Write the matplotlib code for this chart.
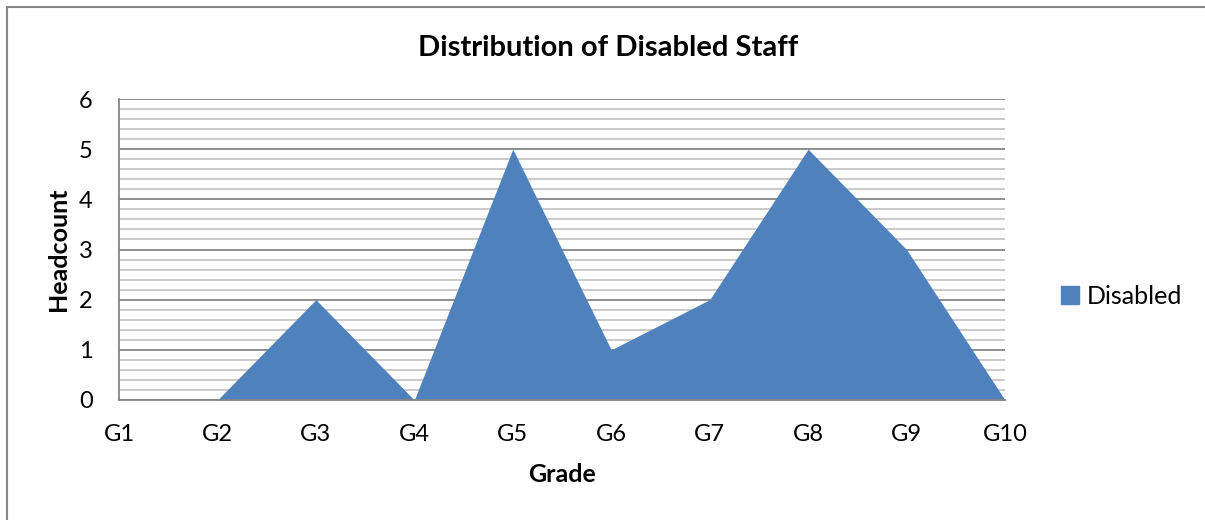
import matplotlib
matplotlib.use("Agg")
import matplotlib.pyplot as plt
from matplotlib.patches import Rectangle, Patch
from matplotlib.ticker import MultipleLocator

grades = ["G1", "G2", "G3", "G4", "G5", "G6", "G7", "G8", "G9", "G10"]
disabled = [0, 0, 2, 0, 5, 1, 2, 5, 3, 0]
series_name = "Disabled"

plt.rcParams['font.family'] = ['Lato', 'DejaVu Sans']

W, H = 1205, 520
fig = plt.figure(figsize=(W / 100, H / 100), dpi=100)
fig.patches.append(Rectangle((7 / W, -10 / H), (1230 - 7) / W, (513 + 10) / H,
                             transform=fig.transFigure, fill=False,
                             edgecolor="#868686", linewidth=1.5))

ax = fig.add_axes([119 / W, 1 - 400 / H, (1005 - 119) / W, (400 - 99) / H])
x = list(range(len(grades)))
ax.fill_between(x, disabled, 0, color="#4F81BD", linewidth=0, zorder=3)

ax.set_xlim(0, len(grades) - 1)
ax.set_ylim(0, 6)
ax.yaxis.set_major_locator(MultipleLocator(1))
ax.yaxis.set_minor_locator(MultipleLocator(0.2))
ax.grid(True, which="major", axis="y", color="#868686", linewidth=1.3, zorder=1)
ax.grid(True, which="minor", axis="y", color="#C6C6C6", linewidth=1.3, zorder=1)
ax.set_xticks(x)
ax.set_xticklabels(grades)
for s in ["top", "right"]:
    ax.spines[s].set_visible(False)
for s in ["left", "bottom"]:
    ax.spines[s].set_color("#868686")
    ax.spines[s].set_linewidth(1.3)
    ax.spines[s].set_zorder(4)
ax.tick_params(axis="both", which="both", length=0, labelsize=17, colors="black")
ax.tick_params(axis="x", pad=17.5)
ax.tick_params(axis="y", pad=19)

ax.set_xlabel("Grade", fontsize=18, fontweight="bold", labelpad=13)
ax.set_ylabel("Headcount", fontsize=18, fontweight="bold", labelpad=6)
fig.text(608 / W, 1 - 48 / H, "Distribution of Disabled Staff", ha="center", va="center",
         fontsize=21, fontweight="bold")

fig.legend(handles=[Patch(color="#4F81BD", label=series_name)],
           loc="center left", bbox_to_anchor=(1038 / W, 1 - 296 / H),
           frameon=False, fontsize=18, handlelength=0.75, handleheight=0.75,
           handletextpad=0.3)

fig.savefig("out.png", dpi=100)
